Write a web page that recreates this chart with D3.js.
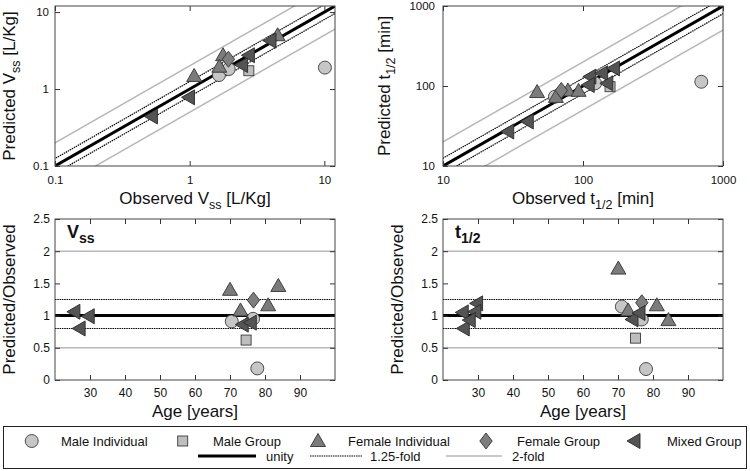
<!DOCTYPE html>
<html><head><meta charset="utf-8">
<script src="https://cdn.jsdelivr.net/npm/d3@7"></script>
<style>
body{margin:0;background:#fff}
text{font-family:"Liberation Sans",Arial,Helvetica,sans-serif;fill:#111}
</style>
</head><body>
<svg id="c" width="750" height="471"></svg>
<script>
// ---------- DATA ----------
// Panel A: Vss [L/Kg], [observed, predicted]
const vssMaleIndividual = [[1.65,1.52],[1.95,1.82],[10.1,1.9]];
const vssMaleGroup      = [[2.75,1.73]];
const vssFemaleIndividual = [[1.08,1.48],[1.77,2.75],[1.66,1.95],[4.5,5.0]];
const vssFemaleGroup    = [[1.94,2.44]];
const vssMixedGroup     = [[0.52,0.44],[0.98,0.78],[2.43,2.05],[2.73,2.75],[3.95,4.25]];
// Panel B: t1/2 [min], [observed, predicted]
const thMaleIndividual = [[63,73.5],[122,108],[700,113]];
const thMaleGroup      = [[156,98]];
const thFemaleIndividual = [[47,84],[78,88],[93,87],[64,73]];
const thFemaleGroup    = [[70,88]];
const thMixedGroup     = [[29,27],[40,36],[112,131],[136,144],[165,166],[109,103],[148,108]];
// Panel C: Vss ratio vs age, [age, predicted/observed]
const vssAgeMaleIndividual = [[70.5,0.91],[76.6,0.95],[77.8,0.18]];
const vssAgeMaleGroup      = [[74.6,0.62]];
const vssAgeFemaleIndividual = [[70,1.40],[73,1.08],[80.9,1.16],[83.8,1.46]];
const vssAgeFemaleGroup    = [[76.7,1.24]];
const vssAgeMixedGroup     = [[25.4,1.06],[29.5,0.99],[26.9,0.80],[73.5,0.86],[75.8,0.89]];
// Panel D: t1/2 ratio vs age
const thAgeMaleIndividual = [[71.1,1.14],[76.8,0.94],[78,0.17]];
const thAgeMaleGroup      = [[75,0.65]];
const thAgeFemaleIndividual = [[70.1,1.73],[72.9,1.08],[81.1,1.16],[84.4,0.93]];
const thAgeFemaleGroup    = [[76.8,1.2]];
const thAgeMixedGroup     = [[25.5,1.05],[29.6,1.19],[29.1,1.06],[25.8,0.80],[27.5,0.93],[74,0.94],[76,1.04]];

const logTicksVss = [0.1,1,10];
const logTicksTh  = [10,100,1000];
const ageTicks    = [30,40,50,60,70,80,90];
const ratioTicks  = [0,0.5,1,1.5,2,2.5];
const foldLevels  = [{f:1,type:"unity"},{f:1.25,type:"f125"},{f:2,type:"f2"}];

const legendMarkers = [
  {key:"maleInd",label:"Male Individual"},
  {key:"maleGrp",label:"Male Group"},
  {key:"femInd",label:"Female Individual"},
  {key:"femGrp",label:"Female Group"},
  {key:"mixed",label:"Mixed Group"}
];
const legendLines = [
  {type:"unity",label:"unity"},
  {type:"f125",label:"1.25-fold"},
  {type:"f2",label:"2-fold"}
];

// ---------- STYLE ----------
const svg = d3.select("#c");
const markerStyle = {
  maleInd:{fill:"#c6c6c6",stroke:"#3a3a3a"},
  maleGrp:{fill:"#bebebe",stroke:"#3a3a3a"},
  femInd:{fill:"#7b7b7b",stroke:"#333"},
  femGrp:{fill:"#7e7e7e",stroke:"#333"},
  mixed:{fill:"#545454",stroke:"#2a2a2a"}
};
const lineStyle = {
  unity:{stroke:"#000",width:3,dash:null},
  f125:{stroke:"#000",width:1.2,dash:"1.5,0.8"},
  f2:{stroke:"#b8b8b8",width:1.5,dash:null}
};

function drawMarker(g, key, x, y){
  const s = markerStyle[key];
  let el;
  if(key==="maleInd") el = g.append("circle").attr("cx",x).attr("cy",y).attr("r",6.5);
  else if(key==="maleGrp") el = g.append("rect").attr("x",x-5).attr("y",y-5).attr("width",10).attr("height",10);
  else if(key==="femInd") el = g.append("path").attr("d",`M${x},${y-7.5}L${x+7.5},${y+5.5}L${x-7.5},${y+5.5}Z`);
  else if(key==="femGrp") el = g.append("path").attr("d",`M${x},${y-8}L${x+6.2},${y}L${x},${y+8}L${x-6.2},${y}Z`);
  else el = g.append("path").attr("d",`M${x-7},${y}L${x+6},${y-7.5}L${x+6},${y+7.5}Z`);
  el.attr("fill",s.fill).attr("stroke",s.stroke).attr("stroke-width",0.9);
}

function richText(g, parts, attrs, subSize){
  const t = g.append("text");
  Object.entries(attrs).forEach(([k,v])=>t.attr(k,v));
  parts.forEach(p=>{
    const ts = t.append("tspan").text(p.t);
    if(p.sub){ ts.attr("font-size",subSize).attr("dy",5); }
    else if(p.after){ ts.attr("dy",-5); }
  });
  return t;
}

let clipId = 0;
function panel(o){
  const g = svg.append("g");
  const x = o.x, y = o.y;
  const [x0,x1] = x.range(), [y1,y0] = y.range();
  const id = "clip"+(clipId++);
  g.append("clipPath").attr("id",id).append("rect").attr("x",x0).attr("y",y0).attr("width",x1-x0).attr("height",y1-y0);
  const inner = g.append("g").attr("clip-path",`url(#${id})`);

  // reference lines
  const refOrder = ["f2","f125","unity"];
  refOrder.forEach(type=>{
    const lv = foldLevels.find(d=>d.type===type);
    const factors = lv.f===1 ? [1] : [lv.f, 1/lv.f];
    const st = lineStyle[type];
    factors.forEach(f=>{
      let ln;
      if(o.mode==="log"){
        const d = x.domain();
        ln = inner.append("line").attr("x1",x(d[0]/4)).attr("y1",y(d[0]/4*f)).attr("x2",x(d[1]*4)).attr("y2",y(d[1]*4*f));
      } else {
        ln = inner.append("line").attr("x1",x0).attr("x2",x1).attr("y1",y(f)).attr("y2",y(f));
      }
      ln.attr("stroke",st.stroke).attr("stroke-width",st.width);
      if(st.dash) ln.attr("stroke-dasharray",st.dash);
    });
  });

  // axes
  const fmt = o.fmt || (d=>d);
  const bottom = g.append("g").attr("transform",`translate(0,${y1})`)
    .call(d3.axisBottom(x).tickValues(o.xTicks).tickSizeInner(-5).tickSizeOuter(0).tickPadding(o.xPad).tickFormat(fmt));
  const left = g.append("g").attr("transform",`translate(${x0},0)`)
    .call(d3.axisLeft(y).tickValues(o.yTicks).tickSizeInner(-5).tickSizeOuter(0).tickPadding(o.yPad).tickFormat(fmt));
  const top = g.append("g").attr("transform",`translate(0,${y0})`)
    .call(d3.axisTop(x).tickValues(o.xTicks).tickSizeInner(-5).tickSizeOuter(0).tickFormat(""));
  const right = g.append("g").attr("transform",`translate(${x1},0)`)
    .call(d3.axisRight(y).tickValues(o.yTicks).tickSizeInner(-5).tickSizeOuter(0).tickFormat(""));
  [bottom,left,top,right].forEach(a=>{
    a.select(".domain").remove();
    a.selectAll(".tick line").attr("stroke","#333");
    a.selectAll("text").attr("font-size",o.tickSize).attr("fill","#111").attr("font-family","Liberation Sans, Arial, sans-serif");
  });
  g.append("rect").attr("x",x0).attr("y",y0).attr("width",x1-x0).attr("height",y1-y0)
    .attr("fill","none").attr("stroke","#444").attr("stroke-width",1);

  // markers
  const mg = g.append("g");
  o.series.forEach(s=>s.data.forEach(d=>drawMarker(mg, s.key, x(d[0]), y(d[1]))));

  // labels
  richText(g, o.xLabel, {x:(x0+x1)/2, y:o.xLabelY, "text-anchor":"middle","font-size":17}, 12.5);
  richText(g, o.yLabel, {transform:`translate(${o.yLabelX},${(y0+y1)/2}) rotate(-90)`, "text-anchor":"middle","font-size":17}, 12.5);
  if(o.title){
    richText(g, o.title, {x:o.titleX, y:y0+19, "font-size":18, "font-weight":"bold"}, 14);
  }
}

const fmtLog = d=>String(d);
const fmtRatio = d=>String(d);

panel({
  mode:"log",
  x:d3.scaleLog().domain([0.1,12]).range([55,335]),
  y:d3.scaleLog().domain([0.1,12]).range([166,6]),
  xTicks:logTicksVss, yTicks:logTicksVss, xPad:10, yPad:6, tickSize:11.5, fmt:fmtLog,
  series:[
    {key:"maleInd",data:vssMaleIndividual},{key:"maleGrp",data:vssMaleGroup},
    {key:"femInd",data:vssFemaleIndividual},{key:"femGrp",data:vssFemaleGroup},
    {key:"mixed",data:vssMixedGroup}],
  xLabel:[{t:"Observed V"},{t:"ss",sub:true},{t:" [L/Kg]",after:true}], xLabelY:204,
  yLabel:[{t:"Predicted V"},{t:"ss",sub:true},{t:" [L/Kg]",after:true}], yLabelX:15
});
panel({
  mode:"log",
  x:d3.scaleLog().domain([10,1000]).range([443,723]),
  y:d3.scaleLog().domain([10,1000]).range([166,6]),
  xTicks:logTicksTh, yTicks:logTicksTh, xPad:10, yPad:8, tickSize:11.5, fmt:fmtLog,
  series:[
    {key:"maleInd",data:thMaleIndividual},{key:"maleGrp",data:thMaleGroup},
    {key:"femInd",data:thFemaleIndividual},{key:"femGrp",data:thFemaleGroup},
    {key:"mixed",data:thMixedGroup}],
  xLabel:[{t:"Observed t"},{t:"1/2",sub:true},{t:" [min]",after:true}], xLabelY:204,
  yLabel:[{t:"Predicted t"},{t:"1/2",sub:true},{t:" [min]",after:true}], yLabelX:390
});
panel({
  mode:"lin",
  x:d3.scaleLinear().domain([20,100]).range([55,335]),
  y:d3.scaleLinear().domain([0,2.5]).range([380,219]),
  xTicks:ageTicks, yTicks:ratioTicks, xPad:8, yPad:5, tickSize:12, fmt:fmtRatio,
  series:[
    {key:"maleInd",data:vssAgeMaleIndividual},{key:"maleGrp",data:vssAgeMaleGroup},
    {key:"femInd",data:vssAgeFemaleIndividual},{key:"femGrp",data:vssAgeFemaleGroup},
    {key:"mixed",data:vssAgeMixedGroup}],
  xLabel:[{t:"Age [years]"}], xLabelY:417,
  yLabel:[{t:"Predicted/Observed"}], yLabelX:15,
  title:[{t:"V"},{t:"ss",sub:true}], titleX:67
});
panel({
  mode:"lin",
  x:d3.scaleLinear().domain([20,100]).range([443,723]),
  y:d3.scaleLinear().domain([0,2.5]).range([380,219]),
  xTicks:ageTicks, yTicks:ratioTicks, xPad:8, yPad:5, tickSize:12, fmt:fmtRatio,
  series:[
    {key:"maleInd",data:thAgeMaleIndividual},{key:"maleGrp",data:thAgeMaleGroup},
    {key:"femInd",data:thAgeFemaleIndividual},{key:"femGrp",data:thAgeFemaleGroup},
    {key:"mixed",data:thAgeMixedGroup}],
  xLabel:[{t:"Age [years]"}], xLabelY:417,
  yLabel:[{t:"Predicted/Observed"}], yLabelX:403,
  title:[{t:"t"},{t:"1/2",sub:true}], titleX:455
});

// ---------- LEGEND ----------
const lg = svg.append("g");
lg.append("rect").attr("x",3.5).attr("y",426.5).attr("width",743).attr("height",42)
  .attr("fill","#fff").attr("stroke","#222").attr("stroke-width",1);
const markerX = [31.7,182.7,318,486,634];
const textX = [61,213,348,517,667];
legendMarkers.forEach((m,i)=>{
  drawMarker(lg, m.key, markerX[i], 441);
  lg.append("text").attr("x",textX[i]).attr("y",446).attr("font-size",13).text(m.label);
});
const lineX = [[198,256],[310,362],[446,502]];
const lineTextX = [266,370,512];
legendLines.forEach((l,i)=>{
  const st = lineStyle[l.type];
  const ln = lg.append("line").attr("x1",lineX[i][0]).attr("x2",lineX[i][1]).attr("y1",456).attr("y2",456)
    .attr("stroke",st.stroke).attr("stroke-width",st.width);
  if(st.dash) ln.attr("stroke-dasharray",st.dash);
  lg.append("text").attr("x",lineTextX[i]).attr("y",460.5).attr("font-size",13).text(l.label);
});
</script>
</body></html>
